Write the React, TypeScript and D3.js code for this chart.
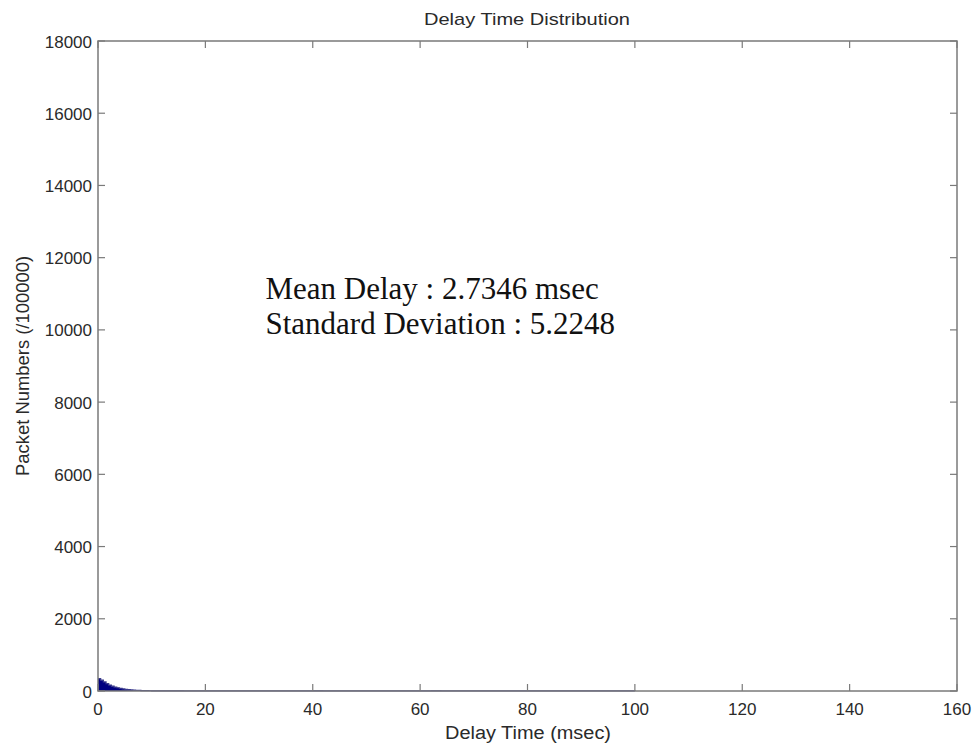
import React from "react";
import * as d3 from "d3";

const title = "Delay Time Distribution";
const xLabel = "Delay Time (msec)";
const yLabel = "Packet Numbers (/100000)";
const xTicks = [0, 20, 40, 60, 80, 100, 120, 140, 160];
const yTicks = [0, 2000, 4000, 6000, 8000, 10000, 12000, 14000, 16000, 18000];
const annotations = ["Mean Delay : 2.7346 msec", "Standard Deviation : 5.2248"];

// head of distribution, 0.5 msec bins starting at 0
const headBinStarts = [0, 0.5, 1, 1.5, 2, 2.5, 3, 3.5, 4, 4.5, 5, 5.5, 6, 6.5, 7, 7.5, 8, 8.5, 9, 9.5];
const headCounts = [340, 300, 250, 205, 165, 135, 110, 90, 72, 58, 47, 38, 30, 24, 19, 15, 12, 10, 8, 7];
// tail bins starting at 10
const tailBinStarts = [10, 11, 12, 13, 14, 15, 16, 17, 18, 19, 20, 22, 24, 26, 28, 30, 32, 34, 36, 38, 40, 42, 44, 46, 48, 50, 52, 54, 56, 58, 60, 62, 64, 66, 68, 70, 72, 74, 76, 78, 80, 82, 84, 86, 88, 90, 92, 94, 96, 98, 100];
const tailCounts = [6, 5, 5, 4, 4, 4, 3, 3, 3, 3, 3, 3, 2, 3, 2, 3, 2, 2, 3, 2, 4, 2, 3, 2, 3, 2, 3, 2, 2, 3, 2, 4, 2, 2, 3, 2, 2, 3, 2, 2, 3, 2, 2, 2, 2, 3, 2, 2, 2, 1, 0];

const W = 977;
const H = 746;
const margin = { left: 98, right: 20, top: 41, bottom: 55 };

export default function App() {
  const x = d3.scaleLinear().domain([0, 160]).range([margin.left, W - margin.right]);
  const y = d3.scaleLinear().domain([0, 18000]).range([H - margin.bottom, margin.top]);

  const pts: [number, number][] = [];
  headBinStarts.forEach((b, i) => pts.push([b, headCounts[i]]));
  tailBinStarts.forEach((b, i) => pts.push([b, tailCounts[i]]));
  const area = d3
    .area<[number, number]>()
    .x((d) => x(d[0]))
    .y0(y(0))
    .y1((d) => y(d[1]))
    .curve(d3.curveStepAfter);
  const line = d3
    .line<[number, number]>()
    .x((d) => x(d[0]))
    .y((d) => y(d[1]))
    .curve(d3.curveStepAfter);

  const x0 = x(0), x1 = x(160), y0 = y(0), y1 = y(18000);
  const tl = 7;
  const axisColor = "#7a7a7a";
  const textColor = "#2a2a2a";
  const font = "Liberation Sans, Arial, sans-serif";

  return (
    <svg width={W} height={H} style={{ position: "absolute", left: 0, top: 0, background: "#fff" }}>
      <rect x={0} y={0} width={W} height={H} fill="#fff" />
      <path d={area(pts) || ""} fill="#000080" />
      <path d={line(pts) || ""} fill="none" stroke="#3a3a8c" strokeWidth={1.2} />
      <rect x={x0} y={y1} width={x1 - x0} height={y0 - y1} fill="none" stroke={axisColor} strokeWidth={1.5} />
      {xTicks.map((t) => (
        <g key={"x" + t}>
          <line x1={x(t)} x2={x(t)} y1={y0} y2={y0 - tl} stroke={axisColor} strokeWidth={1.2} />
          <line x1={x(t)} x2={x(t)} y1={y1} y2={y1 + tl} stroke={axisColor} strokeWidth={1.2} />
          <text x={x(t)} y={y0 + 24} textAnchor="middle" fontSize={17} fill={textColor} fontFamily={font}>
            {t}
          </text>
        </g>
      ))}
      {yTicks.map((t) => (
        <g key={"y" + t}>
          <line x1={x0} x2={x0 + tl} y1={y(t)} y2={y(t)} stroke={axisColor} strokeWidth={1.2} />
          <line x1={x1} x2={x1 - tl} y1={y(t)} y2={y(t)} stroke={axisColor} strokeWidth={1.2} />
          <text x={x0 - 6} y={y(t) + 6.5} textAnchor="end" fontSize={17} fill={textColor} fontFamily={font}>
            {t}
          </text>
        </g>
      ))}
      <text x={527} y={25} textAnchor="middle" fontSize={17} fill={textColor} fontFamily={font} textLength={206} lengthAdjust="spacingAndGlyphs">
        {title}
      </text>
      <text x={528} y={739} textAnchor="middle" fontSize={18} fill={textColor} fontFamily={font} textLength={166} lengthAdjust="spacingAndGlyphs">
        {xLabel}
      </text>
      <text
        transform={`translate(29, ${(y0 + y1) / 2}) rotate(-90)`}
        textAnchor="middle"
        fontSize={18}
        fill={textColor}
        fontFamily={font}
        textLength={220}
        lengthAdjust="spacingAndGlyphs"
      >
        {yLabel}
      </text>
      {annotations.map((a, i) => (
        <text key={a} x={x(31.2)} y={299 + i * 35} fontSize={31} fill="#111" fontFamily="Liberation Serif, Times New Roman, serif">
          {a}
        </text>
      ))}
    </svg>
  );
}
